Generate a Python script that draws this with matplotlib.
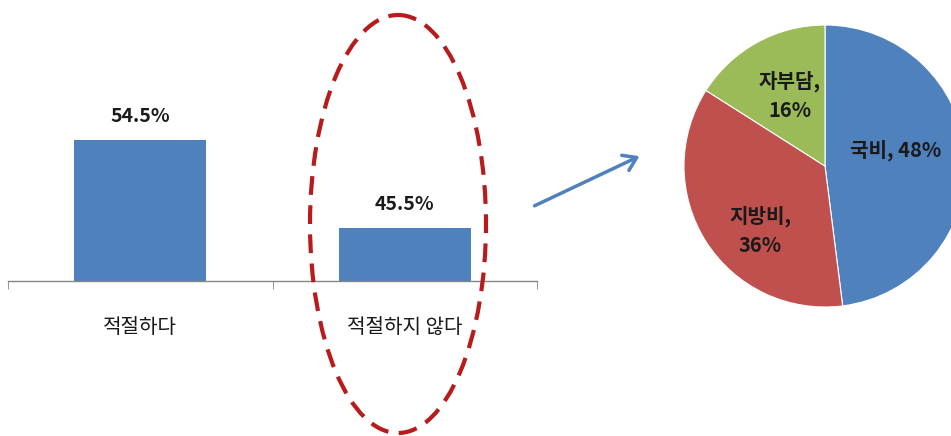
import matplotlib
matplotlib.use("Agg")
import matplotlib.pyplot as plt
from matplotlib.patches import Ellipse, FancyArrowPatch
import numpy as np

plt.rcParams['font.family'] = ['Noto Sans CJK KR', 'DejaVu Sans']

# Data
categories = ['적절하다', '적절하지 않다']
bar_values = [54.5, 45.5]
pie_labels = ['국비', '지방비', '자부담']
pie_values = [48, 36, 16]

W, H = 951, 436
fig = plt.figure(figsize=(W / 100, H / 100), dpi=100)
fig.patch.set_facecolor('white')

def fx(px):
    return px / W

def fy(py):
    return 1 - py / H

# Bar chart
ax = fig.add_axes([fx(8), fy(281), fx(537) - fx(8), fy(87) - fy(281)])
x = np.arange(len(categories))
bars = ax.bar(x, bar_values, width=0.5, color='#4F81BD', zorder=2)
ax.set_ylim(40, 60)
ax.set_xlim(-0.5, len(categories) - 0.5)
for s in ['top', 'right', 'left']:
    ax.spines[s].set_visible(False)
ax.spines['bottom'].set_color('#868686')
ax.spines['bottom'].set_linewidth(1.0)
ax.set_yticks([])
ax.set_xticks(x)
ax.set_xticklabels(categories, fontsize=14.5, color='#1a1a1a')
ax.tick_params(axis='x', which='major', length=0, pad=26)
ax.set_xticks(np.arange(-0.5, len(categories)), minor=True)
ax.tick_params(axis='x', which='minor', length=6, color='#868686', direction='out')
ax.patch.set_alpha(0)
for b, v in zip(bars, bar_values):
    ax.annotate(f'{v}%', (b.get_x() + b.get_width() / 2, v), xytext=(0, 10),
                textcoords='offset points', ha='center', va='bottom',
                fontsize=14, fontweight='bold', color='#1a1a1a')

# Pie chart
r_px = 141
cx, cy = 825, 166
pax = fig.add_axes([fx(cx - r_px), fy(cy + r_px), 2 * r_px / W, 2 * r_px / H])
wedges, texts = pax.pie(pie_values, colors=['#4F81BD', '#C0504D', '#9BBB59'],
                        startangle=90, counterclock=False,
                        labels=[f'{l},\n{v}%' for l, v in zip(pie_labels, pie_values)],
                        labeldistance=0.55,
                        wedgeprops=dict(edgecolor='white', linewidth=0.8),
                        textprops=dict(fontsize=14.5, fontweight='bold', color='#1a1a1a',
                                       ha='center', va='center'))
texts[0].set_text(f'{pie_labels[0]}, {pie_values[0]}%')
label_pos = [(0.50, 0.11), (-0.46, -0.46), (-0.25, 0.50)]
for t, p in zip(texts, label_pos):
    t.set_position(p)
    t.set_ha('center')
    t.set_va('center')
    t.set_linespacing(1.5)
pax.set_xlim(-1, 1)
pax.set_ylim(-1, 1)
pax.set_aspect('auto')
pax.axis('off')

# Overlay for ellipse and arrow
ov = fig.add_axes([0, 0, 1, 1])
ov.set_xlim(0, W)
ov.set_ylim(H, 0)
ov.axis('off')
ov.patch.set_alpha(0)
ell = Ellipse((398, 224), 176, 418, fill=False, edgecolor='#B81B1B',
              linewidth=3, linestyle=(0, (4.5, 2.5)))
ov.add_patch(ell)
arr = FancyArrowPatch((532, 207), (642, 155), arrowstyle='->,head_length=6,head_width=4',
                      color='#4F81BD', linewidth=2.5, mutation_scale=1.5)
ov.add_patch(arr)

fig.savefig('out.png', dpi=100, facecolor='white')
